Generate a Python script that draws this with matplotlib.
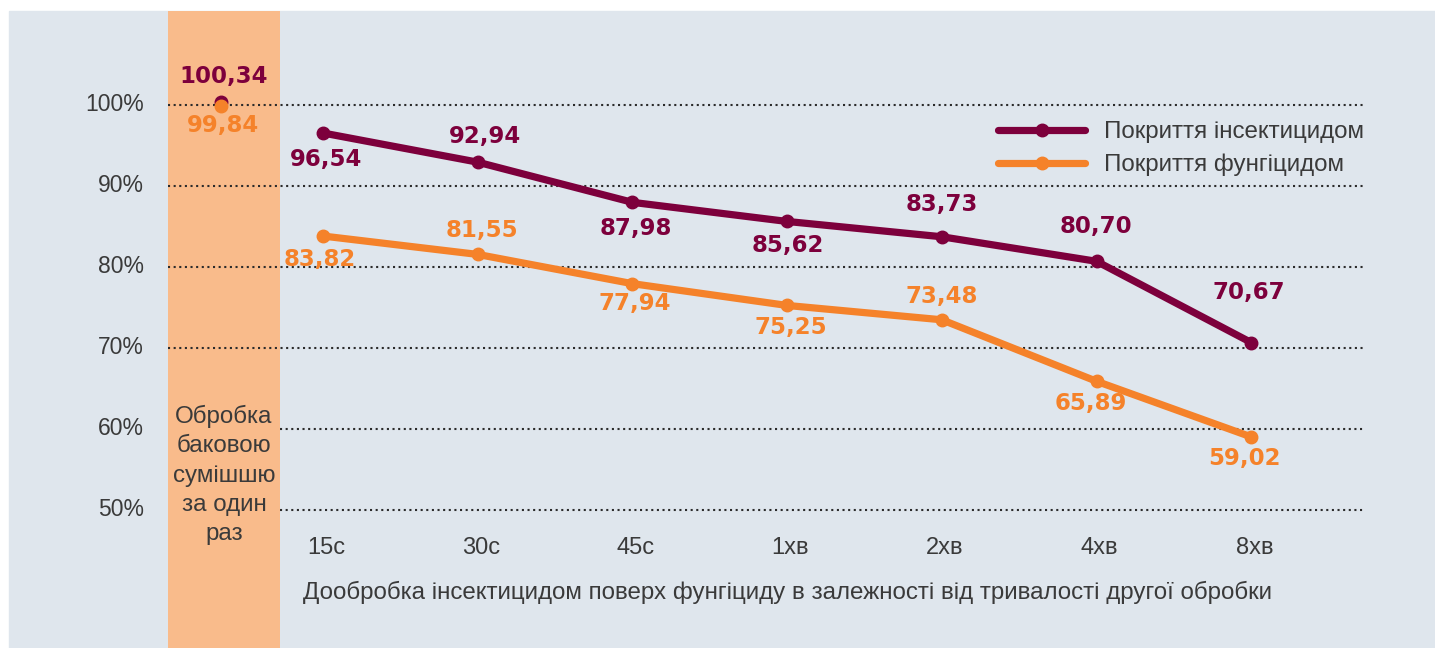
import matplotlib.pyplot as plt
from matplotlib.patches import Rectangle

plt.rcParams['font.family'] = ['Liberation Sans', 'DejaVu Sans']

categories = ["15с", "30с", "45с", "1хв", "2хв", "4хв", "8хв"]
insecticide = [96.54, 92.94, 87.98, 85.62, 83.73, 80.70, 70.67]
fungicide = [83.82, 81.55, 77.94, 75.25, 73.48, 65.89, 59.02]
tank_insecticide = 100.34
tank_fungicide = 99.84
yticks = [100, 90, 80, 70, 60, 50]

band_text = "Обробка\nбаковою\nсумішшю\nза один\nраз"
xlabel = "Дообробка інсектицидом поверх фунгіциду в залежності від тривалості другої обробки"
names = ["Покриття інсектицидом", "Покриття фунгіцидом"]

PURPLE = "#7d003c"
ORANGE = "#f5822a"
BAND = "#f9bb8b"
PANEL = "#dfe6ed"
TXT = "#3a3a3a"

# label offsets in pixels (dx, dy) from each point
ins_off = [(3, -26), (7, 26), (3, -26), (1, -24), (0, 32), (-1, 35), (-2, 50)]
fun_off = [(-3, -23), (4, 24), (2, -20), (4, -22), (0, 23), (-6, -22), (-7, -22)]

def fmt(v):
    return f"{v:.2f}".replace(".", ",")

fig = plt.figure(figsize=(14.35, 6.48), dpi=100)
ax = fig.add_axes([0, 0, 1, 1])
ax.axis("off")
ax.set_xlim(-2.088, 7.188)
ax.set_ylim(32.96, 112.96)

ax.add_patch(Rectangle((9 / 1435, 0), 1, 1 - 11 / 648, transform=ax.transAxes,
                       color=PANEL, zorder=0))
ax.axvspan(-1.002, -0.278, ymin=0, ymax=1 - 11 / 648, color=BAND, zorder=1, lw=0)

# grid lines: the lower two stop at the band so the band text stays clear
for t in yticks:
    start = -1.002 if t >= 70 else -0.278
    ax.hlines(t, start, 6.723, colors="#2b2b2b", lw=1.5,
              linestyles=(0, (1, 1.7)), zorder=2)
    ax.text(-1.157, t, f"{t}%", ha="right", va="center", fontsize=16.5, color=TXT)

x = list(range(len(categories)))
l1, = ax.plot(x, insecticide, color=PURPLE, lw=5.2, marker="o", ms=9,
              solid_capstyle="round", zorder=4, label=names[0])
l2, = ax.plot(x, fungicide, color=ORANGE, lw=5.2, marker="o", ms=9,
              solid_capstyle="round", zorder=4, label=names[1])
ax.plot([-0.659], [tank_insecticide], "o", color=PURPLE, ms=9, zorder=4)
ax.plot([-0.659], [tank_fungicide], "o", color=ORANGE, ms=9, zorder=5)

lab = dict(ha="center", va="center", fontsize=16.5, fontweight="bold",
           family="DejaVu Sans", textcoords="offset pixels", zorder=6)
ax.annotate(fmt(tank_insecticide), (-0.659, tank_insecticide), xytext=(3, 26),
            color=PURPLE, **lab)
ax.annotate(fmt(tank_fungicide), (-0.659, tank_fungicide), xytext=(2, -19),
            color=ORANGE, **lab)
for i, v in enumerate(insecticide):
    ax.annotate(fmt(v), (i, v), xytext=ins_off[i], color=PURPLE, **lab)
for i, v in enumerate(fungicide):
    ax.annotate(fmt(v), (i, v), xytext=fun_off[i], color=ORANGE, **lab)

xt = ax.get_xaxis_transform()
for i, c in enumerate(categories):
    ax.text(i + 0.02, 1 - 548 / 648, c, transform=xt, ha="center", va="center",
            fontsize=17, color=TXT)
ax.text(3, 1 - 592 / 648, xlabel, transform=xt, ha="center", va="center",
        fontsize=17.4, color=TXT)
ax.text(-0.640, 1 - 475 / 648, band_text, transform=xt, ha="center", va="center",
        fontsize=17.4, color=TXT, linespacing=1.43)

ax.legend(handles=[l1, l2], loc="upper left", bbox_to_anchor=(998 / 1435, 1 - 121 / 648),
          bbox_transform=fig.transFigure, frameon=False, fontsize=17.4,
          handlelength=3.6, handletextpad=0.8, labelspacing=0.45, borderpad=0,
          borderaxespad=0, numpoints=1, labelcolor=TXT)

fig.savefig("out.png", dpi=100, facecolor="white")
